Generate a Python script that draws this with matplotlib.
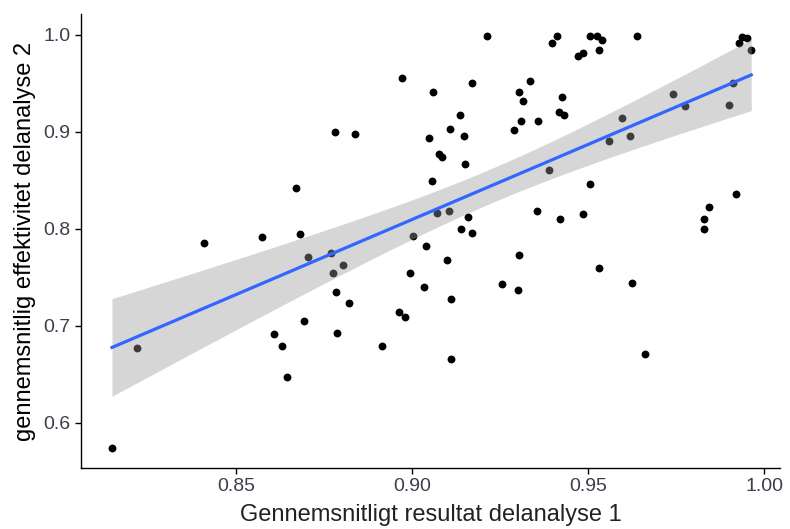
import numpy as np
import matplotlib
matplotlib.use("Agg")
import matplotlib.pyplot as plt

plt.rcParams['font.family'] = ['Liberation Sans', 'DejaVu Sans']

# Gennemsnitligt resultat delanalyse 1 (x) og effektivitet delanalyse 2 (y)
x_vals = [
    0.8148, 0.8219, 0.8409, 0.8574, 0.8682, 0.8670, 0.8705, 0.8770, 0.8804, 0.8776,
    0.8784, 0.8821, 0.8693, 0.8787, 0.8608, 0.8631, 0.8645, 0.8915, 0.8963, 0.8980,
    0.8782, 0.8838, 0.8972, 0.9060, 0.9170, 0.9335, 0.9304, 0.9315, 0.9426, 0.9136,
    0.9108, 0.9048, 0.9148, 0.9418, 0.9432, 0.9310, 0.9358, 0.9290, 0.9077, 0.9085,
    0.9057, 0.9003, 0.9040, 0.8994, 0.9034, 0.9099, 0.9110, 0.9256, 0.9300, 0.9304,
    0.9071, 0.9106, 0.9150, 0.9160, 0.9140, 0.9170, 0.9110, 0.9213, 0.9412, 0.9398,
    0.9506, 0.9526, 0.9540, 0.9531, 0.9470, 0.9485, 0.9640, 0.9937, 0.9952, 0.9929,
    0.9963, 0.9390, 0.9355, 0.9420, 0.9486, 0.9506, 0.9530, 0.9625, 0.9660, 0.9560,
    0.9620, 0.9597, 0.9740, 0.9776, 0.9900, 0.9910, 0.9920, 0.9844, 0.9830, 0.9830,
]
y_vals = [
    0.574, 0.677, 0.786, 0.792, 0.795, 0.842, 0.771, 0.775, 0.763, 0.755,
    0.735, 0.724, 0.705, 0.693, 0.692, 0.679, 0.647, 0.679, 0.714, 0.709,
    0.900, 0.898, 0.956, 0.941, 0.951, 0.953, 0.941, 0.932, 0.936, 0.918,
    0.903, 0.894, 0.896, 0.921, 0.917, 0.911, 0.911, 0.902, 0.877, 0.874,
    0.849, 0.793, 0.782, 0.755, 0.740, 0.768, 0.728, 0.743, 0.737, 0.773,
    0.816, 0.819, 0.867, 0.812, 0.800, 0.796, 0.666, 0.999, 0.999, 0.992,
    0.999, 0.999, 0.995, 0.985, 0.978, 0.981, 0.999, 0.998, 0.997, 0.992,
    0.985, 0.861, 0.819, 0.810, 0.815, 0.846, 0.760, 0.744, 0.671, 0.891,
    0.896, 0.914, 0.939, 0.927, 0.928, 0.950, 0.836, 0.823, 0.810, 0.800,
]
x_ticks = [0.85, 0.90, 0.95, 1.00]
y_ticks = [0.6, 0.7, 0.8, 0.9, 1.0]

x = np.array(x_vals)
y = np.array(y_vals)

# lineaer model med 95% konfidensbaand (som geom_smooth(method="lm"))
n = len(x)
slope, icpt = np.polyfit(x, y, 1)
resid = y - (icpt + slope * x)
s = np.sqrt(np.sum(resid ** 2) / (n - 2))
xs = np.linspace(x.min(), x.max(), 100)
ys = icpt + slope * xs
se = s * np.sqrt(1.0 / n + (xs - x.mean()) ** 2 / np.sum((x - x.mean()) ** 2))
t_crit = 1.985

fig = plt.figure(figsize=(7.9, 5.29), dpi=100)
ax = fig.add_axes([0.1025, 0.1153, 0.885, 0.8582])

ax.scatter(x, y, s=32, color='black', zorder=2, linewidths=0)
ax.fill_between(xs, ys - t_crit * se, ys + t_crit * se, color='#999999', alpha=0.4,
                linewidth=0, zorder=3)
ax.plot(xs, ys, color='#3366FF', linewidth=2.3, zorder=4)

ax.set_xlim(0.806, 1.0045)
ax.set_ylim(0.5536, 1.0216)
ax.set_xticks(x_ticks)
ax.set_xticklabels([f"{v:.2f}" for v in x_ticks])
ax.set_yticks(y_ticks)
ax.set_yticklabels([f"{v:.1f}" for v in y_ticks])

for side in ['top', 'right']:
    ax.spines[side].set_visible(False)
for side in ['left', 'bottom']:
    ax.spines[side].set_linewidth(1.0)
    ax.spines[side].set_color('black')
ax.tick_params(axis='both', direction='out', length=4.5, width=1, colors='black',
               labelcolor='#3D3D4D', labelsize=14, pad=3)

ax.set_xlabel("Gennemsnitligt resultat delanalyse 1", fontsize=17, color='#222222', labelpad=6)
ax.set_ylabel("gennemsnitlig effektivitet delanalyse 2", fontsize=17, color='black', labelpad=5)

fig.savefig("out.png", dpi=100)
